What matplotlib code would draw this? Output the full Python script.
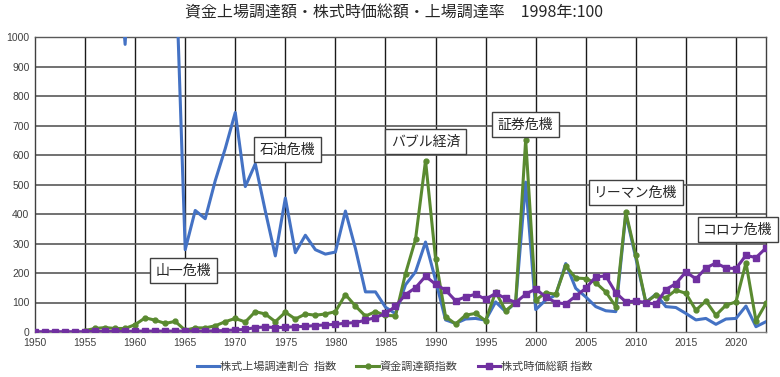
import numpy as np
import matplotlib
matplotlib.use("Agg")
import matplotlib.pyplot as plt

plt.rcParams['font.family'] = ['Noto Sans CJK JP', 'DejaVu Sans']

years = list(range(1950, 2024))
N = None

blue_vals = [N, N, N, N, N,
             1500, 1800, 1600, 1400, 975, 1600, 2200, 2000, 1700, 1300,
             279, 412, 384, 513, 622, 744, 493, 570, 410, 258,
             454, 269, 328, 279, 264, 271, 410, 283, 136, 136,
             84, 62, 160, 204, 305, 176, 41, 29, 44, 46,
             40, 102, 69, 100, 508, 76, 108, 125, 232, 148,
             119, 86, 72, 69, 400, 250, 100, 128, 86, 83,
             63, 41, 46, 26, 44, 46, 88, 18, 35]

green_vals = [N, N, N, N, N,
              5, 12, 15, 12, 12, 25, 48, 40, 29, 36,
              6, 14, 14, 21, 35, 46, 34, 69, 61, 35,
              67, 44, 61, 57, 61, 69, 127, 88, 54, 69,
              56, 55, 198, 314, 581, 249, 52, 27, 57, 63,
              38, 136, 72, 100, 652, 108, 133, 128, 224, 183,
              181, 167, 136, 86, 406, 260, 101, 125, 116, 142,
              131, 74, 105, 57, 91, 102, 235, 38, 97]

purple_vals = [1, 1, 1, 1, 1, 1, 2, 2, 2, 2, 3, 3, 3, 3, 3,
               3, 3, 3, 4, 5, 7, 9, 15, 17, 15,
               16, 18, 19, 22, 24, 26, 30, 32, 40, 49,
               63, 87, 127, 150, 189, 162, 142, 106, 119, 128,
               111, 131, 114, 100, 128, 146, 119, 100, 95, 122,
               148, 187, 190, 133, 102, 105, 100, 94, 144, 164,
               204, 180, 217, 234, 217, 215, 260, 252, 285]

series_names = ["株式上場調達割合  指数", "資金調達額指数", "株式時価総額 指数"]
title_text = "資金上場調達額・株式時価総額・上場調達率　1998年:100"

events = [("山一危機", 1964.8, 209), ("石油危機", 1975.2, 618),
          ("バブル経済", 1989.0, 645), ("証券危機", 1999.0, 703),
          ("リーマン危機", 2010.0, 473), ("コロナ危機", 2020.2, 348)]

def arr(v):
    return np.array([np.nan if x is None else x for x in v], dtype=float)

fig = plt.figure(figsize=(7.8, 3.77), dpi=100)
ax = fig.add_axes([35/780, 45/377, 731/780, 295/377])

ax.plot(years, arr(blue_vals), color='#4472C4', lw=2.2, label=series_names[0], zorder=3)
ax.plot(years, arr(green_vals), color='#5A8A30', lw=2.2, marker='o', ms=3.5,
        label=series_names[1], zorder=4)
ax.plot(years, arr(purple_vals), color='#7030A0', lw=2.2, marker='s', ms=4.5,
        label=series_names[2], zorder=5)

ax.set_xlim(1950, 2023)
ax.set_ylim(0, 1000)
ax.set_xticks(range(1950, 2021, 5))
ax.set_yticks(range(0, 1001, 100))
ax.tick_params(length=0, labelsize=7.5, colors='#404040', pad=4)
for lbl in ax.get_xticklabels() + ax.get_yticklabels():
    lbl.set_fontfamily(['Liberation Sans', 'DejaVu Sans'])

for x in range(1955, 2021, 5):
    ax.axvline(x, color='#1a1a1a', lw=1.0, zorder=1)
for y in range(100, 1000, 100):
    ax.axhline(y, color='#595959', lw=1.2, zorder=1)
for s in ax.spines.values():
    s.set_color('#404040')
    s.set_linewidth(1.0)
ax.spines['top'].set_color('#595959')
ax.spines['bottom'].set_color('#808080')

for txt, x, y in events:
    ax.text(x, y, txt, ha='center', va='center', fontsize=10, color='#262626',
            bbox=dict(boxstyle='square,pad=0.4', fc='white', ec='#404040', lw=1.0),
            zorder=6, clip_on=False)

fig.text(0.505, 0.965, title_text, ha='center', va='center', fontsize=11.5, color='#262626')

leg = ax.legend(loc='upper center', bbox_to_anchor=(0.492, -0.065), ncol=3, frameon=False,
                fontsize=8, handlelength=2.0, columnspacing=1.8, handletextpad=0.1)
for t in leg.get_texts():
    t.set_color('#404040')

fig.savefig('out.png', dpi=100)
